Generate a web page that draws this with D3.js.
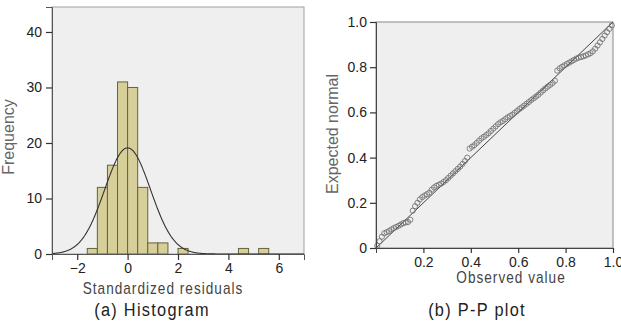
<!DOCTYPE html>
<html>
<head>
<meta charset="utf-8">
<script src="https://cdn.jsdelivr.net/npm/d3@7"></script>
<style>
  html, body { margin: 0; padding: 0; background: #fff; }
  svg { display: block; }
</style>
</head>
<body>
<div id="chart"></div>
<script>
// histogram bins (lower edge, upper edge) and counts
const binStart = [-1.6, -1.2, -0.8, -0.4, 0.0, 0.4, 0.8, 1.2, 2.0, 4.4, 5.2];
const binEnd   = [-1.2, -0.8, -0.4,  0.0, 0.4, 0.8, 1.2, 1.6, 2.4, 4.8, 5.6];
const binCount = [1, 12, 16, 31, 30, 12, 2, 2, 1, 1, 1];
const histXTicks = [-2, 0, 2, 4, 6];
const histYTicks = [0, 10, 20, 30, 40];
// fitted normal curve
const curveMean = 0, curveSd = 0.91, curveN = 109, binWidth = 0.4;

// P-P plot points
const ppObserved = [
  0.005,0.015,0.025,0.035,0.045,0.055,0.065,0.075,0.085,0.095,
  0.105,0.115,0.125,0.135,0.145,0.155,0.165,0.175,0.185,0.195,
  0.205,0.215,0.225,0.235,0.245,0.255,0.265,0.275,0.285,0.295,
  0.305,0.315,0.325,0.335,0.345,0.355,0.365,0.375,0.385,0.395,
  0.405,0.415,0.425,0.435,0.445,0.455,0.465,0.475,0.485,0.495,
  0.505,0.515,0.525,0.535,0.545,0.555,0.565,0.575,0.585,0.595,
  0.605,0.615,0.625,0.635,0.645,0.655,0.665,0.675,0.685,0.695,
  0.705,0.715,0.725,0.735,0.745,0.755,0.765,0.775,0.785,0.795,
  0.805,0.815,0.825,0.835,0.845,0.855,0.865,0.875,0.885,0.895,
  0.905,0.915,0.925,0.935,0.945,0.955,0.965,0.975,0.985,0.995];
const ppExpected = [
  0.010,0.030,0.050,0.065,0.070,0.075,0.082,0.088,0.093,0.098,
  0.104,0.110,0.113,0.115,0.125,0.165,0.185,0.200,0.215,0.225,
  0.232,0.238,0.245,0.258,0.268,0.275,0.280,0.285,0.292,0.300,
  0.310,0.320,0.330,0.340,0.350,0.360,0.372,0.385,0.400,0.440,
  0.448,0.455,0.465,0.475,0.485,0.492,0.500,0.508,0.518,0.528,
  0.538,0.548,0.556,0.562,0.570,0.578,0.584,0.590,0.598,0.606,
  0.615,0.622,0.630,0.638,0.646,0.655,0.662,0.670,0.678,0.688,
  0.697,0.706,0.714,0.722,0.730,0.740,0.785,0.795,0.802,0.808,
  0.814,0.820,0.826,0.832,0.838,0.842,0.845,0.848,0.852,0.857,
  0.862,0.870,0.882,0.896,0.910,0.925,0.940,0.955,0.970,0.985];
const ppXTicks = [0.2, 0.4, 0.6, 0.8, 1.0];
const ppYTicks = [0, 0.2, 0.4, 0.6, 0.8, 1.0];

const width = 621, height = 335;
const svg = d3.select('#chart').append('svg')
  .attr('width', width)
  .attr('height', height)
  .style('font-family', '"Liberation Sans", Arial, sans-serif');

svg.append('rect').attr('width', width).attr('height', height).attr('fill', '#fff');

const fmt = d3.format('.1f');

// condensed label: text squeezed horizontally around (x, y)
function narrowText(g, x, y, txt, size, spacing, sx, color) {
  return g.append('text')
    .attr('transform', `translate(${x},${y}) scale(${sx},1)`)
    .attr('text-anchor', 'middle')
    .attr('fill', color)
    .style('font-size', size + 'px')
    .style('letter-spacing', spacing + 'px')
    .text(txt);
}

// ---------- histogram ----------
const hx = d3.scaleLinear().domain([-3, 7]).range([52, 304]);
const hy = d3.scaleLinear().domain([0, 44.5]).range([254, 7]);

const h = svg.append('g');
h.append('rect')
  .attr('x', hx.range()[0]).attr('y', hy.range()[1])
  .attr('width', hx.range()[1] - hx.range()[0])
  .attr('height', hy.range()[0] - hy.range()[1])
  .attr('fill', '#efefef')
  .attr('stroke', '#a0a0a0');

h.selectAll('rect.bar')
  .data(binCount)
  .join('rect')
  .attr('class', 'bar')
  .attr('x', (d, i) => hx(binStart[i]))
  .attr('width', (d, i) => hx(binEnd[i]) - hx(binStart[i]))
  .attr('y', d => hy(d))
  .attr('height', d => hy(0) - hy(d))
  .attr('fill', '#d6cf99')
  .attr('stroke', '#67623e')
  .attr('stroke-width', 1);

const curve = d3.range(-3, 7.001, 0.02).map(v => [v,
  curveN * binWidth / (curveSd * Math.sqrt(2 * Math.PI)) *
  Math.exp(-0.5 * Math.pow((v - curveMean) / curveSd, 2))]);
h.append('path')
  .datum(curve)
  .attr('fill', 'none')
  .attr('stroke', '#333')
  .attr('stroke-width', 1.1)
  .attr('d', d3.line().x(d => hx(d[0])).y(d => hy(d[1])));

const hxAxis = h.append('g')
  .attr('transform', `translate(0,${hy(0)})`)
  .call(d3.axisBottom(hx).tickValues(histXTicks).tickSize(6).tickPadding(3));
const hyAxis = h.append('g')
  .attr('transform', `translate(${hx(-3)},0)`)
  .call(d3.axisLeft(hy).tickValues(histYTicks).tickSize(6).tickPadding(4));
[hxAxis, hyAxis].forEach(a => {
  a.select('.domain').attr('stroke', '#555');
  a.selectAll('.tick line').attr('stroke', '#333').attr('stroke-width', 1.2);
  a.selectAll('.tick text').attr('fill', '#222')
    .style('font-size', '14px').style('font-family', '"Liberation Sans", Arial, sans-serif');
});

h.append('text')
  .attr('transform', `translate(14,137) rotate(-90)`)
  .attr('text-anchor', 'middle')
  .attr('fill', '#666')
  .style('font-size', '16px')
  .text('Frequency');

narrowText(h, 163, 294, 'Standardized residuals', 16, 1.2, 0.85, '#444');

// ---------- P-P plot ----------
const px = d3.scaleLinear().domain([0, 1]).range([376, 613]);
const py = d3.scaleLinear().domain([0, 1]).range([248, 22]);

const p = svg.append('g');
p.append('rect')
  .attr('x', px(0)).attr('y', py(1))
  .attr('width', px(1) - px(0))
  .attr('height', py(0) - py(1))
  .attr('fill', '#efefef')
  .attr('stroke', '#888');

p.append('line')
  .attr('x1', px(0)).attr('y1', py(0))
  .attr('x2', px(1)).attr('y2', py(1))
  .attr('stroke', '#444')
  .attr('stroke-width', 1);

p.selectAll('circle')
  .data(ppObserved)
  .join('circle')
  .attr('cx', d => px(d))
  .attr('cy', (d, i) => py(ppExpected[i]))
  .attr('r', 2.6)
  .attr('fill', 'none')
  .attr('stroke', '#6a6a6a')
  .attr('stroke-width', 0.8);

const pxAxis = p.append('g')
  .attr('transform', `translate(0,${py(0)})`)
  .call(d3.axisBottom(px).tickValues(ppXTicks).tickFormat(fmt).tickSize(5).tickPadding(4));
const pyAxis = p.append('g')
  .attr('transform', `translate(${px(0)},0)`)
  .call(d3.axisLeft(py).tickValues(ppYTicks).tickFormat(d => d === 0 ? '0' : fmt(d)).tickSize(6).tickPadding(3));
[pxAxis, pyAxis].forEach(a => {
  a.select('.domain').attr('stroke', '#444');
  a.selectAll('.tick line').attr('stroke', '#333').attr('stroke-width', 1.2);
  a.selectAll('.tick text').attr('fill', '#222')
    .style('font-size', '14px').style('font-family', '"Liberation Sans", Arial, sans-serif');
});

p.append('text')
  .attr('transform', `translate(338,134) rotate(-90)`)
  .attr('text-anchor', 'middle')
  .attr('fill', '#666')
  .style('font-size', '16px')
  .text('Expected normal');

narrowText(p, 511, 283, 'Observed value', 16, 1.2, 0.85, '#444');

// ---------- captions ----------
const captions = ['(a) Histogram', '(b) P-P plot'];
const captionX = [152, 477];
captions.forEach((c, i) => narrowText(svg, captionX[i], 316, c, 19, 1.5, 0.86, '#222'));
</script>
</body>
</html>
